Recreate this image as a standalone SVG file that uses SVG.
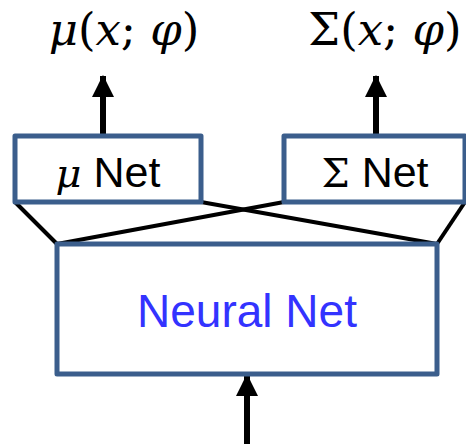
<svg xmlns="http://www.w3.org/2000/svg" width="466" height="444" viewBox="0 0 466 444">
<defs>
<style>
.box{fill:#fff;stroke:#3B5E8C;stroke-width:5;stroke-linejoin:round}
.lbl{font-family:"Liberation Sans",Arial,sans-serif;font-size:43px;fill:#000;text-anchor:middle}
.math{font-family:"DejaVu Serif","Liberation Serif",serif;font-size:45px;fill:#000;text-anchor:middle}
.it{font-style:italic}
.ln{stroke:#000;stroke-width:4;fill:none}
.arr{stroke:#000;stroke-width:6;fill:none;marker-end:url(#ah)}
</style>
<marker id="ah" markerUnits="userSpaceOnUse" markerWidth="22" markerHeight="22" viewBox="0 0 20 20" refX="19" refY="10" orient="auto">
<path d="M0,0 L20,10 L0,20 Z" fill="#000"/>
</marker>
</defs>
<g id="connectors">
<line class="ln" x1="15" y1="202" x2="57" y2="244"/>
<line class="ln" x1="201" y1="202" x2="437" y2="244"/>
<line class="ln" x1="284" y1="202" x2="57" y2="244"/>
<line class="ln" x1="465" y1="202" x2="437" y2="244"/>
<line class="arr" x1="103" y1="136" x2="103" y2="76"/>
<line class="arr" x1="376" y1="136" x2="376" y2="76"/>
<line class="arr" x1="247" y1="444" x2="247" y2="375"/>
</g>
<g id="mu-out">
<text class="math" x="124" y="45"><tspan class="it">μ</tspan>(<tspan class="it">x</tspan>; <tspan class="it">φ</tspan>)</text>
</g>
<g id="sigma-out">
<text class="math" x="385" y="45">Σ(<tspan class="it">x</tspan>; <tspan class="it">φ</tspan>)</text>
</g>
<g id="mu-net">
<rect class="box" x="15" y="136" width="186" height="66"/>
<text class="lbl" x="108" y="187"><tspan class="it" font-family="DejaVu Serif,serif" font-size="40">μ</tspan> Net</text>
</g>
<g id="sigma-net">
<rect class="box" x="284" y="136" width="181" height="66"/>
<text class="lbl" x="375" y="187"><tspan font-family="DejaVu Serif,serif" font-size="40">Σ</tspan> Net</text>
</g>
<g id="neural-net">
<rect class="box" x="57" y="244" width="380" height="130"/>
<text class="lbl" x="247" y="327" style="fill:#3333FF;font-size:46px">Neural Net</text>
</g>
</svg>
